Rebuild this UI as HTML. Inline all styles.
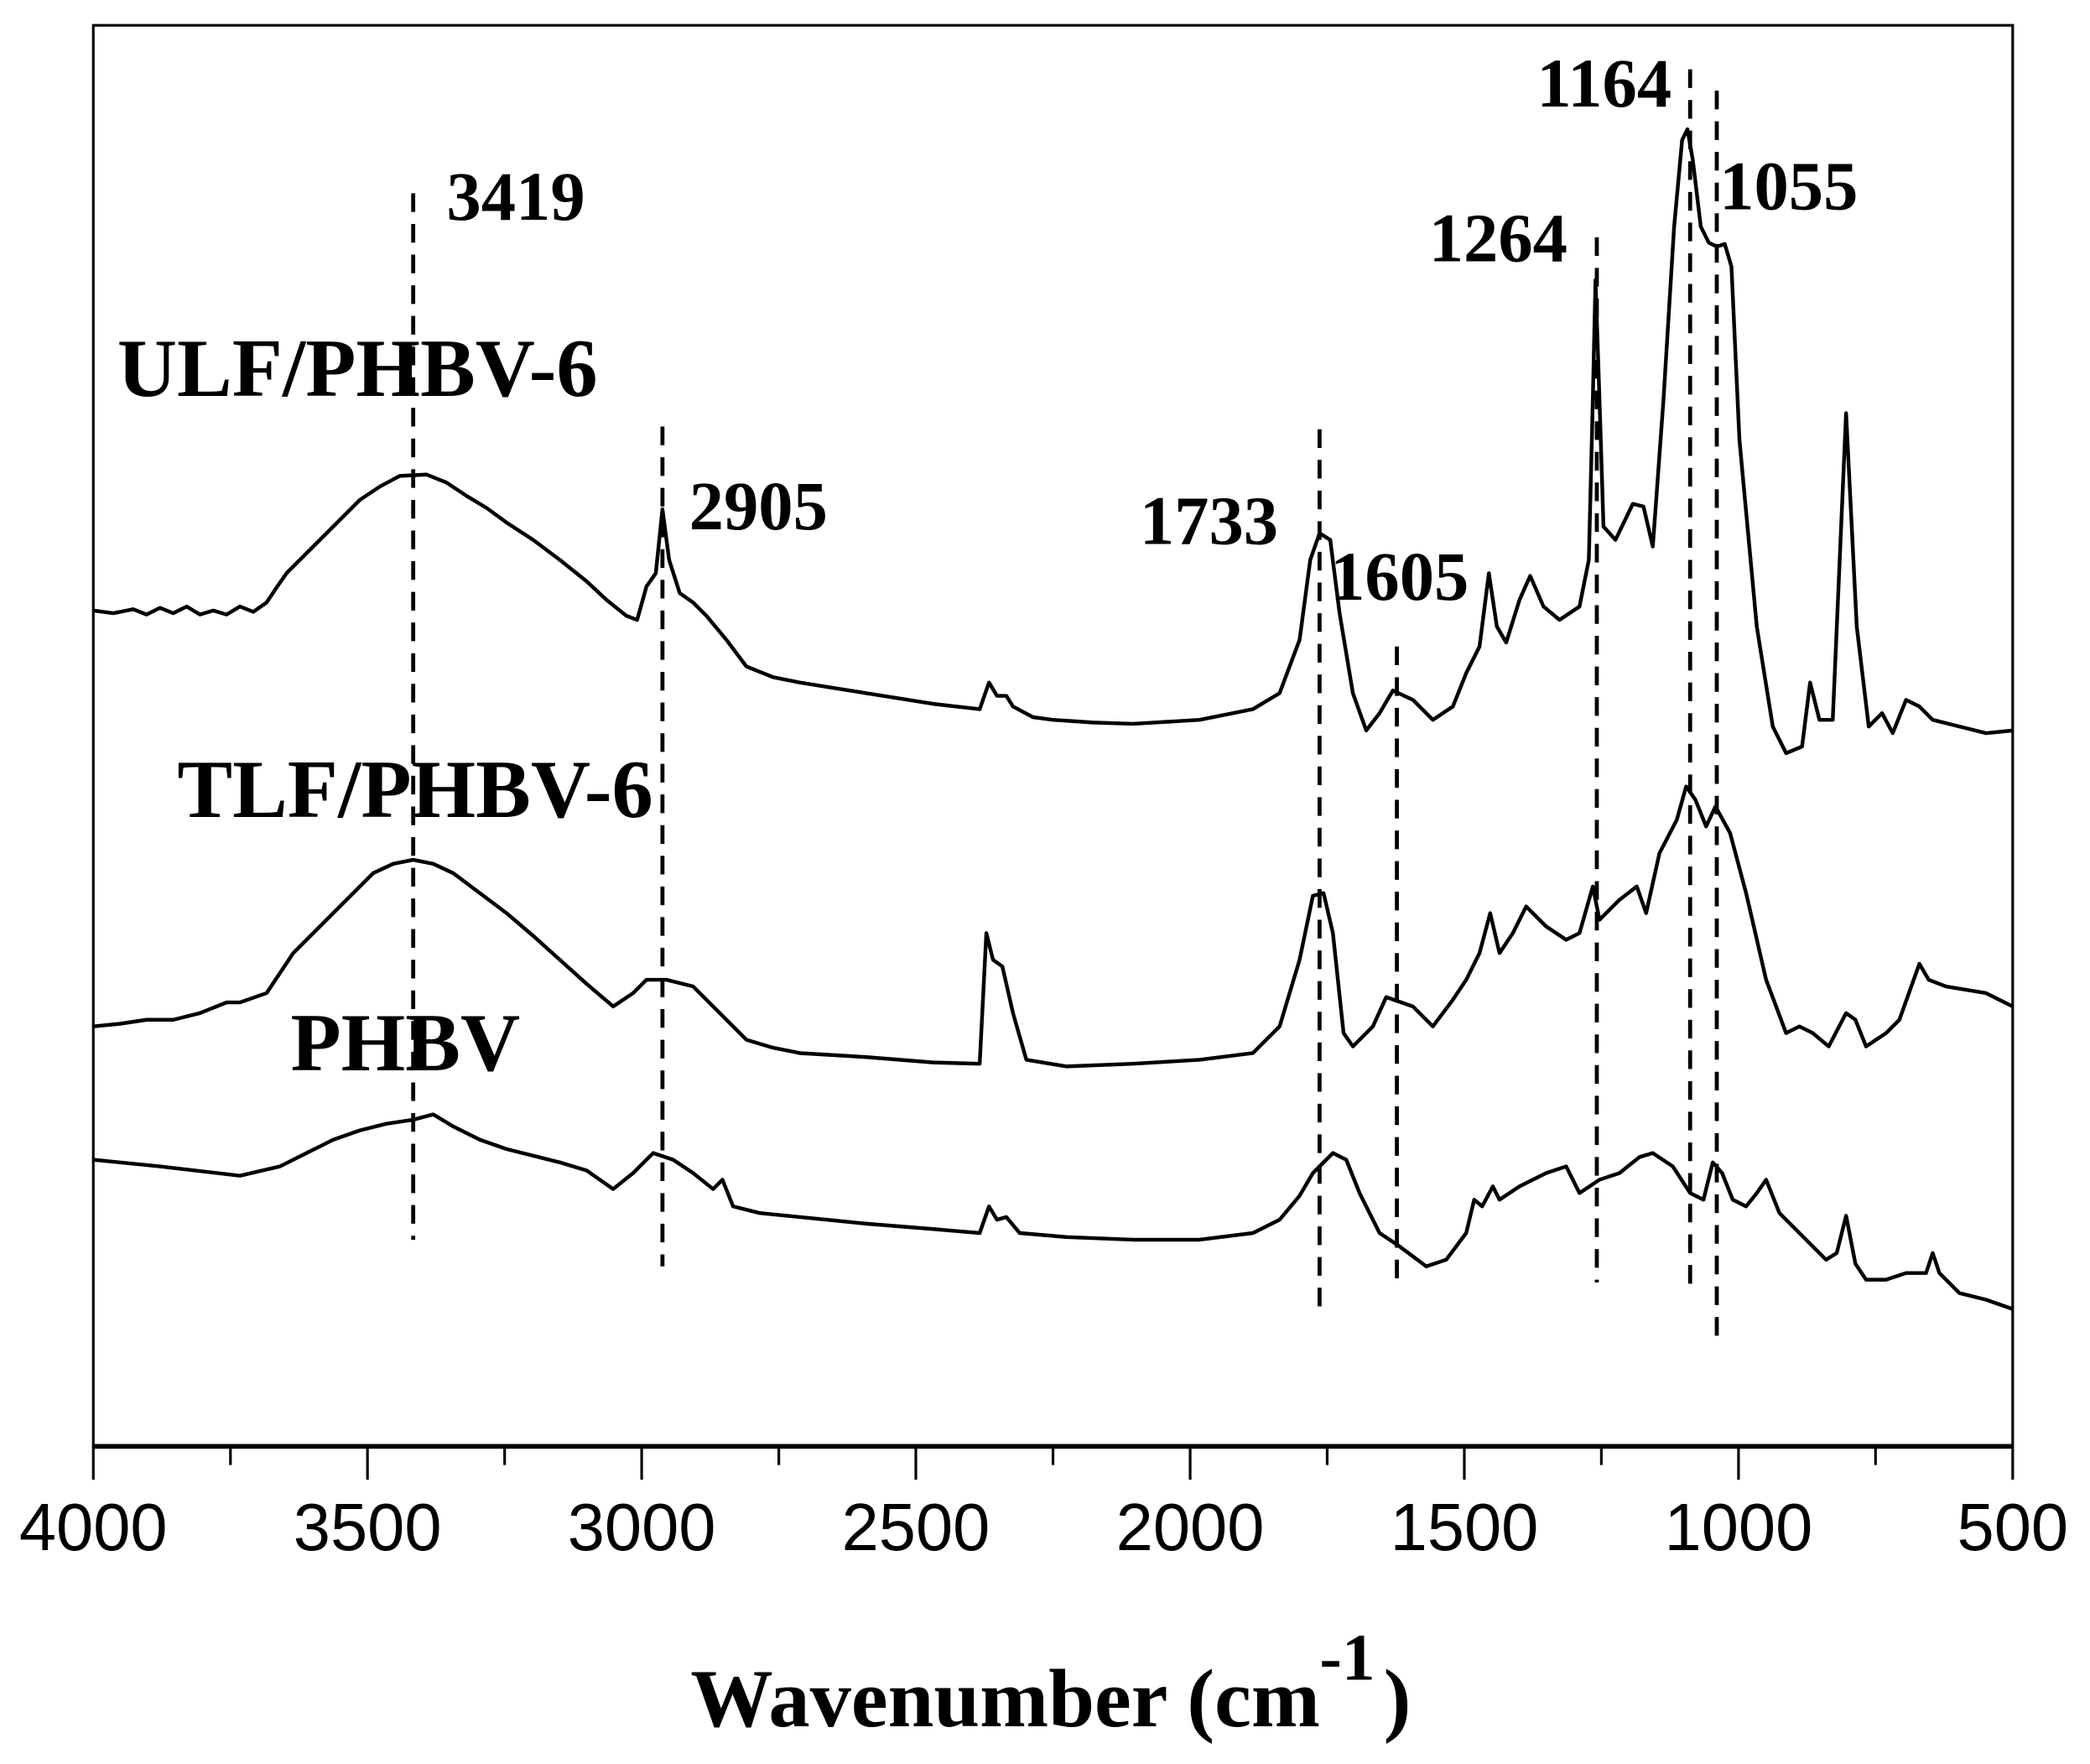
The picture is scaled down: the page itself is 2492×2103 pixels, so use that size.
<!DOCTYPE html>
<html><head><meta charset="utf-8"><style>html,body{margin:0;padding:0;background:#fff}svg{display:block}</style></head>
<body>
<svg width="2492" height="2103" viewBox="0 0 1568 1323.3" preserveAspectRatio="none" xmlns="http://www.w3.org/2000/svg">
<rect x="0" y="0" width="1568" height="1324" fill="#fff"/>
<rect x="70" y="19" width="1440" height="1066" fill="none" stroke="#000" stroke-width="2"/>
<line x1="70" y1="1085" x2="1510" y2="1085" stroke="#000" stroke-width="3.5"/>
<g stroke="#000" stroke-width="2">
<line x1="70" y1="1085" x2="70" y2="1110"/><line x1="275.7" y1="1085" x2="275.7" y2="1110"/><line x1="481.4" y1="1085" x2="481.4" y2="1110"/><line x1="687.1" y1="1085" x2="687.1" y2="1110"/><line x1="892.9" y1="1085" x2="892.9" y2="1110"/><line x1="1098.6" y1="1085" x2="1098.6" y2="1110"/><line x1="1304.3" y1="1085" x2="1304.3" y2="1110"/><line x1="1510" y1="1085" x2="1510" y2="1110"/>
<line x1="172.9" y1="1085" x2="172.9" y2="1099"/><line x1="378.6" y1="1085" x2="378.6" y2="1099"/><line x1="584.3" y1="1085" x2="584.3" y2="1099"/><line x1="790" y1="1085" x2="790" y2="1099"/><line x1="995.7" y1="1085" x2="995.7" y2="1099"/><line x1="1201.4" y1="1085" x2="1201.4" y2="1099"/><line x1="1407.1" y1="1085" x2="1407.1" y2="1099"/>
</g>
<g font-family="Liberation Sans, sans-serif" font-size="50" text-anchor="middle" fill="#000">
<text x="70" y="1163">4000</text><text x="275.7" y="1163">3500</text><text x="481.4" y="1163">3000</text><text x="687.1" y="1163">2500</text><text x="892.9" y="1163">2000</text><text x="1098.6" y="1163">1500</text><text x="1304.3" y="1163">1000</text><text x="1510" y="1163">500</text>
</g>
<text x="518" y="1295" font-family="Liberation Serif, serif" font-weight="bold" font-size="62">Wavenumber (cm</text>
<text x="990" y="1260" font-family="Liberation Serif, serif" font-weight="bold" font-size="50">-1</text>
<text x="1038" y="1295" font-family="Liberation Serif, serif" font-weight="bold" font-size="62">)</text>
<g stroke="#000" stroke-width="3" stroke-dasharray="14,9" fill="none">
<line x1="310" y1="145" x2="310" y2="930"/>
<line x1="497" y1="320" x2="497" y2="950"/>
<line x1="990" y1="322" x2="990" y2="985"/>
<line x1="1048" y1="485" x2="1048" y2="965"/>
<line x1="1198" y1="178" x2="1198" y2="962"/>
<line x1="1268" y1="52" x2="1268" y2="972"/>
<line x1="1288" y1="68" x2="1288" y2="1003"/>
</g>
<g fill="none" stroke="#000" stroke-width="2.8" stroke-linejoin="round">
<polyline points="70,458 85,460 100,457 110,461 120,456 130,460 140,455 150,461 160,458 170,461 180,455 190,459 200,452 208,440 215,430 225,420 240,405 255,390 270,375 285,365 300,357 320,356 335,362 350,372 365,381 380,392 400,405 420,420 440,436 455,450 470,462 478,465 485,440 492,430 497,382 502,420 510,445 520,452 530,462 545,480 560,500 580,508 600,512 650,520 700,528 735,532 742,512 748,522 755,522 760,530 775,538 790,540 820,542 850,543 900,540 940,532 960,520 975,480 983,420 990,400 998,405 1005,460 1015,520 1025,548 1035,535 1045,518 1060,525 1075,540 1090,530 1100,505 1110,485 1117,430 1123,470 1130,482 1140,450 1148,432 1158,455 1170,465 1185,455 1192,420 1195,300 1197,210 1200,300 1203,395 1212,405 1225,378 1233,380 1240,410 1248,300 1256,170 1262,105 1266,97 1270,120 1276,170 1282,182 1288,185 1294,183 1299,200 1305,330 1318,470 1330,545 1340,565 1352,560 1358,512 1365,540 1375,540 1385,310 1393,470 1402,545 1412,535 1420,550 1430,525 1440,530 1450,540 1470,545 1490,550 1510,548"/>
<polyline points="70,770 90,768 110,765 130,765 150,760 170,752 180,752 200,745 210,730 220,715 235,700 250,685 265,670 280,655 295,648 310,645 325,648 340,655 360,670 380,685 400,702 420,720 440,738 460,755 475,745 485,735 500,735 520,740 530,750 540,760 560,780 580,786 600,790 650,793 700,797 735,798 740,700 745,720 752,725 760,760 770,795 800,800 850,798 900,795 940,790 960,770 975,720 985,672 993,670 1000,700 1008,775 1015,785 1030,770 1040,748 1060,755 1075,770 1090,750 1100,735 1110,715 1118,685 1125,715 1135,700 1145,680 1160,695 1175,705 1185,700 1195,665 1200,690 1215,675 1228,665 1235,685 1245,640 1258,615 1265,590 1272,600 1280,620 1287,605 1298,625 1310,670 1325,735 1340,775 1350,770 1360,775 1372,785 1385,760 1392,765 1400,785 1415,775 1425,765 1440,723 1447,735 1460,740 1490,745 1510,755"/>
<polyline points="70,870 120,875 180,882 210,875 230,865 250,855 270,848 290,843 310,840 325,836 340,845 360,855 380,862 400,867 420,872 440,878 460,892 475,880 490,865 505,870 520,880 535,892 542,885 550,905 570,910 600,913 650,918 700,922 735,925 742,905 748,915 755,913 765,925 800,928 850,930 900,930 940,925 960,915 975,897 985,880 1000,865 1010,870 1020,895 1035,925 1050,935 1070,950 1085,945 1100,925 1106,900 1112,905 1120,890 1125,900 1140,890 1160,880 1175,875 1185,895 1200,885 1215,880 1230,868 1240,865 1255,875 1268,895 1278,900 1285,872 1292,880 1300,900 1310,905 1318,895 1325,885 1335,910 1345,920 1370,945 1378,940 1385,912 1392,948 1400,960 1415,960 1430,955 1445,955 1450,940 1455,955 1470,970 1490,975 1510,982"/>
</g>
<g font-family="Liberation Serif, serif" font-weight="bold" fill="#000">
<text x="88" y="297" font-size="62">ULF/PHBV-6</text>
<text x="133" y="613" font-size="62">TLF/PHBV-6</text>
<text x="218" y="803" font-size="62">PHBV</text>
<text x="335" y="165" font-size="52">3419</text>
<text x="517" y="397" font-size="52">2905</text>
<text x="855" y="408" font-size="52">1733</text>
<text x="998" y="450" font-size="52">1605</text>
<text x="1072" y="196" font-size="52">1264</text>
<text x="1153" y="80" font-size="52">1164</text>
<text x="1290" y="157" font-size="52">1055</text>
</g>
</svg>
</body></html>
